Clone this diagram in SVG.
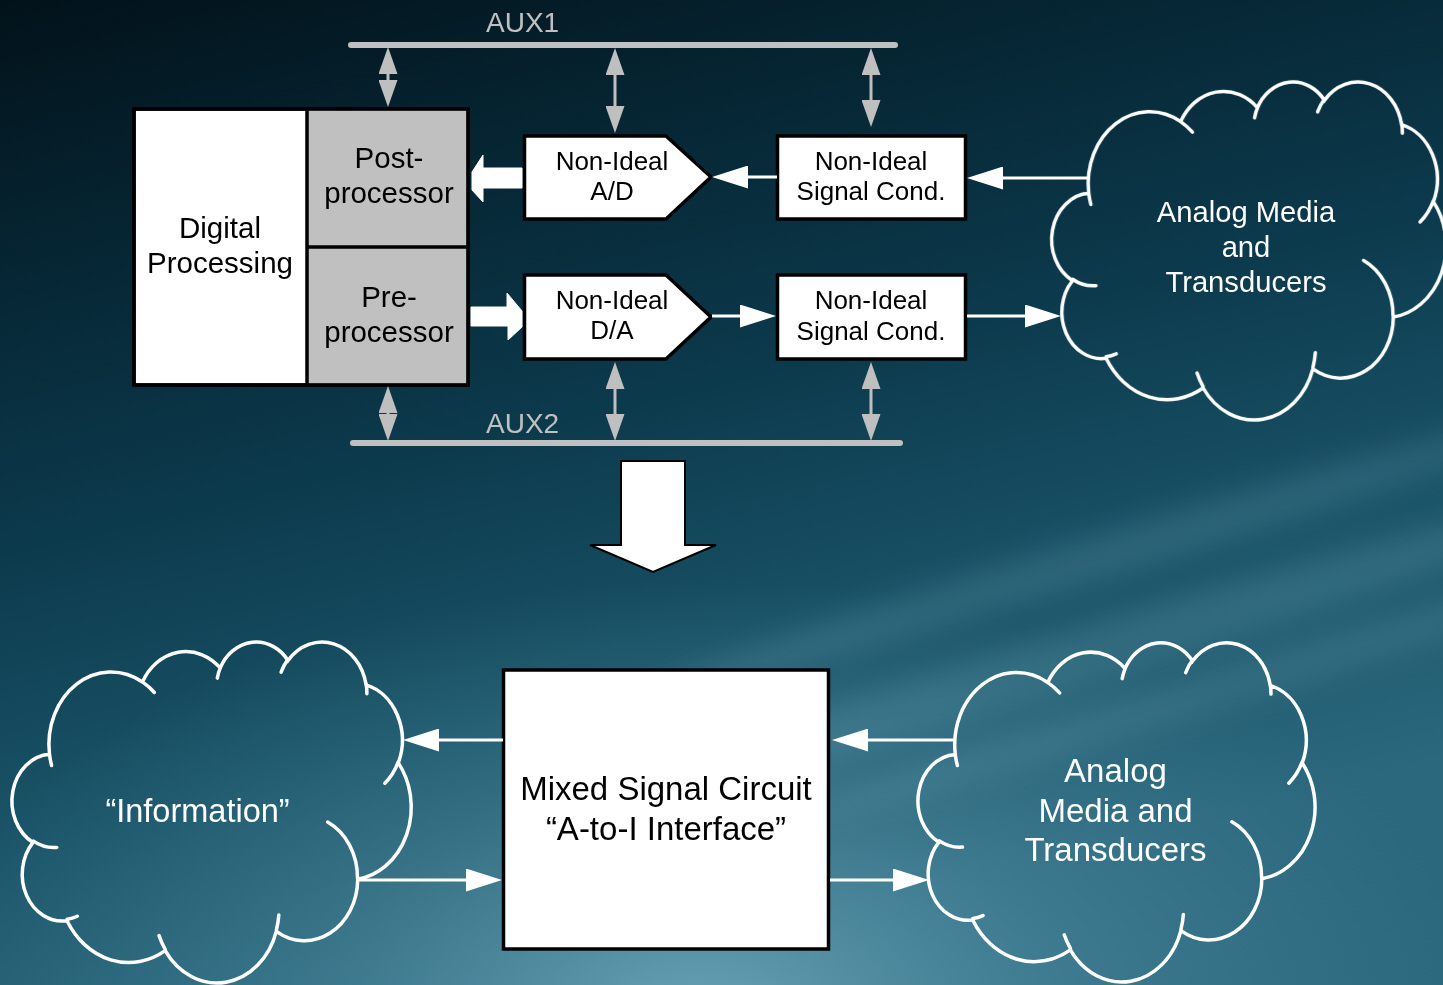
<svg xmlns="http://www.w3.org/2000/svg" width="1443" height="985" viewBox="0 0 1443 985">
<defs>
<style>
.t{font-family:"Liberation Sans",Arial,sans-serif;text-anchor:middle}
.blk{fill:#000}
.wht{fill:#fff}
.aux{font-family:"Liberation Sans",Arial,sans-serif;font-size:28px;fill:#c0c0c0}
.box{fill:#fff;stroke:#000;stroke-width:3.5}
.gbox{fill:#c0c0c0}
.bus{stroke:#c0c0c0;stroke-width:6;stroke-linecap:round}
.gl{stroke:#bfbfbf;stroke-width:3;fill:none;marker-start:url(#ga);marker-end:url(#ga)}
.wl{stroke:#fff;stroke-width:3;fill:none;marker-end:url(#wa)}
.blockarrow{fill:#fff;stroke:#fff;stroke-width:1;stroke-linejoin:round}
</style>
<linearGradient id="bg" x1="0" y1="0" x2="0.35" y2="1">
<stop offset="0" stop-color="#02121a"/>
<stop offset="0.25" stop-color="#062634"/>
<stop offset="0.5" stop-color="#0c3a4d"/>
<stop offset="0.75" stop-color="#1a5367"/>
<stop offset="1" stop-color="#2b687d"/>
</linearGradient>
<radialGradient id="glow" cx="0.5" cy="0.5" r="0.5">
<stop offset="0" stop-color="#7ab4c8" stop-opacity="0.75"/>
<stop offset="0.5" stop-color="#5d98ad" stop-opacity="0.35"/>
<stop offset="1" stop-color="#4a8aa0" stop-opacity="0"/>
</radialGradient>
<filter id="blur" x="-20%" y="-200%" width="140%" height="500%">
<feGaussianBlur stdDeviation="14"/>
</filter>
<marker id="ga" viewBox="0 0 27 19" refX="0" refY="9.5" markerWidth="27" markerHeight="19" markerUnits="userSpaceOnUse" orient="auto-start-reverse">
<path d="M0 0L27 9.5L0 19z" fill="#bfbfbf"/>
</marker>
<marker id="wa" viewBox="0 0 36 23" refX="0" refY="11.5" markerWidth="36" markerHeight="23" markerUnits="userSpaceOnUse" orient="auto">
<path d="M0 0L36 11.5L0 23z" fill="#fff"/>
</marker>
<path id="cloudShape" fill="none" stroke="#fff" stroke-width="3.5" stroke-linecap="round" vector-effect="non-scaling-stroke" d="M3900 14370A6753 9190 0 0 1 14005 5202A5333 7267 0 0 1 22456 3431A4365 5945 0 0 1 29833 2479A4857 6595 0 0 1 38318 5574A5333 7273 0 0 1 41819 15458A6775 9220 0 0 1 37405 30202A5785 7867 0 0 1 28557 36812A6752 9215 0 0 1 16481 39263A7720 10543 0 0 1 5806 35469A4360 5918 0 0 1 2114 25547A4345 5945 0 0 1 3900 14370Z M4693 26177A4345 5945 0 0 1 2160 25380 M6928 34899A4360 5918 0 0 1 5820 35280 M16478 39090A6752 9215 0 0 1 15810 37350 M28827 34751A6752 9215 0 0 1 28560 36660 M34129 22954A5785 7867 0 0 1 37381 30090 M41798 15354A5333 7273 0 0 1 40350 18030 M38324 5426A4857 6595 0 0 1 38400 6690 M29078 3952A4857 6595 0 0 1 29820 2341 M22141 4720A4365 5945 0 0 1 22500 3330 M14000 5192A6753 9190 0 0 1 15300 6541 M4127 15789A6753 9190 0 0 1 3900 14370"/>
</defs>

<g id="background">
<rect width="1443" height="985" fill="url(#bg)"/>
<ellipse cx="700" cy="1010" rx="780" ry="430" fill="url(#glow)"/>
<g filter="url(#blur)" transform="rotate(-17 1100 620)">
<ellipse cx="1120" cy="560" rx="460" ry="22" fill="#8cc0d2" opacity="0.16"/>
<ellipse cx="1050" cy="650" rx="540" ry="30" fill="#8cc0d2" opacity="0.16"/>
<ellipse cx="1180" cy="720" rx="420" ry="20" fill="#8cc0d2" opacity="0.14"/>
</g>
</g>

<g id="aux1">
<line class="bus" x1="351" y1="45" x2="895" y2="45"/>
<text class="aux" x="486" y="32">AUX1</text>
</g>
<g id="aux2">
<line class="bus" x1="353" y1="443" x2="900" y2="443"/>
<text class="aux" x="486" y="433">AUX2</text>
</g>

<g id="digital-processing">
<rect class="box" x="134" y="109" width="334" height="276"/>
<rect class="gbox" x="307" y="110.5" width="159.5" height="273"/>
<line x1="307" y1="109" x2="307" y2="385" stroke="#000" stroke-width="3.5"/>
<line x1="307" y1="247" x2="468" y2="247" stroke="#000" stroke-width="3.5"/>
<rect x="134" y="109" width="334" height="276" fill="none" stroke="#000" stroke-width="3.5"/>
<text class="t blk" font-size="29.5" x="220" y="238">Digital</text>
<text class="t blk" font-size="29.5" x="220" y="273">Processing</text>
</g>
<g id="post-processor">
<text class="t blk" font-size="29.5" x="389" y="168">Post-</text>
<text class="t blk" font-size="29.5" x="389" y="203">processor</text>
</g>
<g id="pre-processor">
<text class="t blk" font-size="29.5" x="389" y="307">Pre-</text>
<text class="t blk" font-size="29.5" x="389" y="342">processor</text>
</g>

<g id="ad">
<path class="box" stroke-width="3" d="M524.5 136H666L711 177L666 219H524.5Z"/>
<text class="t blk" font-size="26" x="612" y="170">Non-Ideal</text>
<text class="t blk" font-size="26" x="612" y="200">A/D</text>
</g>
<g id="da">
<path class="box" stroke-width="3" d="M524.5 275H666L711 317L666 359H524.5Z"/>
<text class="t blk" font-size="26" x="612" y="309">Non-Ideal</text>
<text class="t blk" font-size="26" x="612" y="339">D/A</text>
</g>
<g id="signal-cond-top">
<rect class="box" stroke-width="3" x="777.5" y="136" width="188" height="83"/>
<text class="t blk" font-size="26" x="871" y="170">Non-Ideal</text>
<text class="t blk" font-size="26" x="871" y="200">Signal Cond.</text>
</g>
<g id="signal-cond-bottom">
<rect class="box" stroke-width="3" x="777.5" y="275" width="188" height="84"/>
<text class="t blk" font-size="26" x="871" y="309">Non-Ideal</text>
<text class="t blk" font-size="26" x="871" y="340">Signal Cond.</text>
</g>

<g id="cloud-analog-top">
<use href="#cloudShape" transform="translate(1053.3 80.9) scale(0.00909 0.00782)"/>
<text class="t wht" font-size="29.2" x="1246" y="222">Analog Media</text>
<text class="t wht" font-size="29.2" x="1246" y="257">and</text>
<text class="t wht" font-size="29.2" x="1246" y="292">Transducers</text>
</g>

<g id="transform-arrow">
<path d="M621 461H685V545H716L653 572L590 545H621Z" fill="#fff" stroke="#000" stroke-width="2"/>
</g>

<g id="mixed-signal-circuit">
<rect class="box" x="503.5" y="670" width="325" height="279"/>
<text class="t blk" font-size="33" x="666" y="800">Mixed Signal Circuit</text>
<text class="t blk" font-size="33" x="666" y="840">“A-to-I Interface”</text>
</g>

<g id="cloud-information">
<use href="#cloudShape" transform="translate(13.6 640.9) scale(0.0092 0.00789)"/>
<text class="t wht" font-size="32.5" x="197.5" y="822">“Information”</text>
</g>

<g id="cloud-analog-bottom">
<use href="#cloudShape" transform="translate(919.6 641.6) scale(0.00915 0.00785)"/>
<text class="t wht" font-size="33" x="1115.5" y="782">Analog</text>
<text class="t wht" font-size="33" x="1115.5" y="822">Media and</text>
<text class="t wht" font-size="33" x="1115.5" y="861">Transducers</text>
</g>

<g id="connectors">
<line class="gl" x1="388" y1="74" x2="388" y2="80"/>
<line class="gl" x1="615" y1="75" x2="615" y2="106"/>
<line class="gl" x1="871" y1="75" x2="871" y2="100"/>
<line class="gl" x1="388" y1="413" x2="388" y2="414"/>
<line class="gl" x1="615" y1="389" x2="615" y2="414"/>
<line class="gl" x1="871" y1="389" x2="871" y2="414"/>
<path class="blockarrow" d="M522 168H483V155L472 172V190L483 202V188H522Z"/>
<path class="blockarrow" d="M471 307H507V293L522 311V327L508 340V326H471Z"/>
<line class="wl" x1="777" y1="177" x2="748" y2="177"/>
<line class="wl" x1="712" y1="316" x2="740" y2="316"/>
<line class="wl" x1="1089" y1="178" x2="1003" y2="178"/>
<line class="wl" x1="967" y1="316" x2="1025" y2="316"/>
<line class="wl" x1="503" y1="740" x2="439" y2="740"/>
<line class="wl" x1="358" y1="880" x2="466" y2="880"/>
<line class="wl" x1="955" y1="740" x2="868" y2="740"/>
<line class="wl" x1="830" y1="880" x2="893" y2="880"/>
</g>
</svg>
